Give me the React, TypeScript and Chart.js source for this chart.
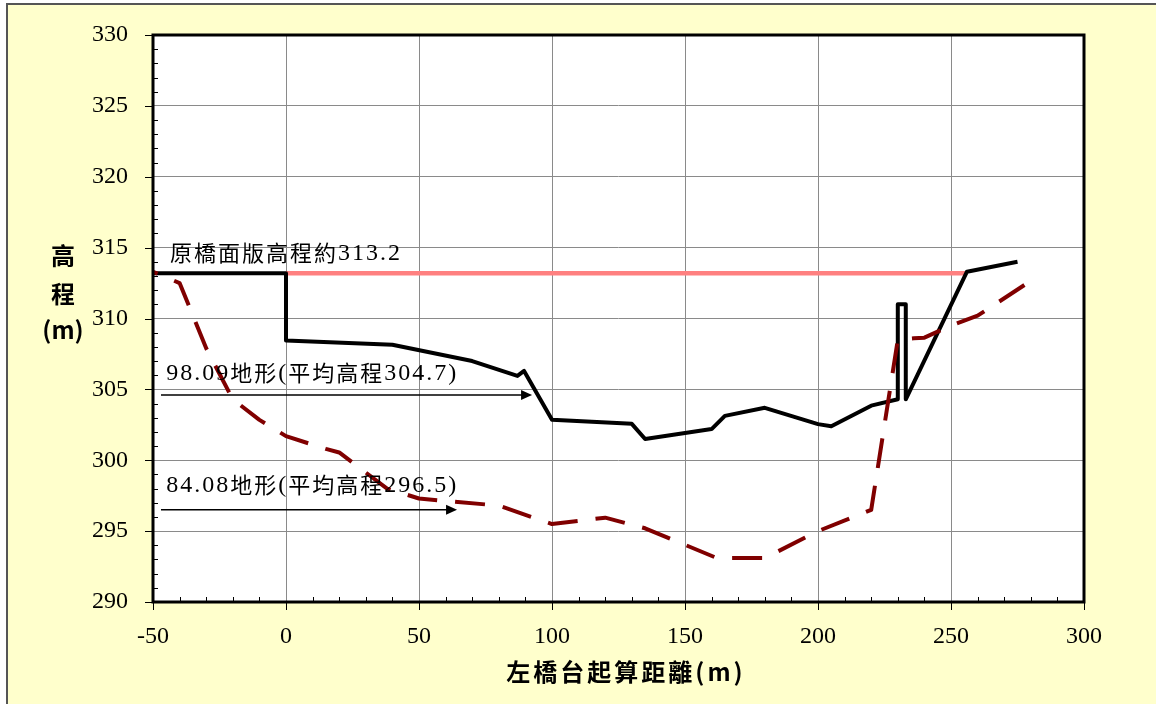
import React, { useEffect, useRef } from "react";
import { Chart, registerables } from "chart.js";

Chart.register(...registerables);

const W = 1156;
const H = 704;

// Axis settings
const X_MIN = -50;
const X_MAX = 300;
const X_STEP = 50;
const X_MINOR = 10;
const Y_MIN = 290;
const Y_MAX = 330;
const Y_STEP = 5;
const Y_MINOR = 1;

// 98.09 terrain (solid black)
const terrain9809X = [-50, 0, 0, 40, 70, 87, 89.5, 100, 130, 135, 160, 165, 180, 200, 205, 220, 230, 230, 233, 233, 256, 275];
const terrain9809Y = [313.2, 313.2, 308.45, 308.15, 307, 305.95, 306.3, 302.85, 302.57, 301.5, 302.2, 303.13, 303.7, 302.55, 302.4, 303.85, 304.3, 311, 311, 304.3, 313.3, 314];

// 84.08 terrain (dashed dark red)
const terrain8408X = [-50, -40, -30, -20, -10, 0, 15, 20, 38, 50, 80, 100, 120, 135, 162, 180, 200, 220, 230, 236, 240, 250, 260, 282];
const terrain8408Y = [313.3, 312.5, 307.9, 304.3, 302.85, 301.7, 300.8, 300.55, 298, 297.3, 296.8, 295.5, 295.95, 295.2, 293.1, 293.1, 295, 296.5, 308.5, 308.6, 308.65, 309.5, 310.2, 312.9];

// original bridge deck (pink)
const deckX = [0, 256];
const deckY = [313.2, 313.2];

// annotations
const noteTexts = ["原橋面版高程約313.2", "98.09地形(平均高程304.7)", "84.08地形(平均高程296.5)"];
const noteX = [-43.6, -45, -45];
const noteY = [314.6, 306.1, 298.2];
const arrowFromX = [-47, -47];
const arrowToX = [92.5, 64.3];
const arrowY = [304.6, 296.5];

const yTitleChars = ["高", "程", "(m)"];
const xTitle = "左橋台起算距離(m)";

const SERIF = '"Liberation Serif", "Times New Roman", serif';
const CJK = '"Noto Sans CJK TC", "Noto Sans CJK SC", sans-serif';

function pts(xs: number[], ys: number[]) {
  return xs.map((x, i) => ({ x, y: ys[i] }));
}

function drawMixed(ctx: CanvasRenderingContext2D, text: string, x: number, y: number) {
  let cx = x;
  for (const ch of Array.from(text)) {
    const cjk = ch.charCodeAt(0) > 0x2e80;
    ctx.font = cjk ? `22px ${CJK}` : `24px ${SERIF}`;
    ctx.fillText(ch, cx, cjk ? y - 1 : y);
    cx += ctx.measureText(ch).width + 2;
  }
}

export default function App() {
  const ref = useRef<HTMLCanvasElement>(null);

  useEffect(() => {
    const canvas = ref.current;
    if (!canvas) return;

    const decor = {
      id: "decor",
      beforeDraw(chart: any) {
        const { ctx, chartArea: a } = chart;
        ctx.save();
        ctx.fillStyle = "#ffffff";
        ctx.fillRect(0, 0, W, H);
        ctx.fillStyle = "#FFFFCC";
        ctx.fillRect(7, 4, W, H);
        ctx.strokeStyle = "#555555";
        ctx.lineWidth = 2;
        ctx.beginPath();
        ctx.moveTo(7, H);
        ctx.lineTo(7, 4);
        ctx.lineTo(W, 4);
        ctx.stroke();
        ctx.fillStyle = "#ffffff";
        ctx.fillRect(a.left, a.top, a.right - a.left, a.bottom - a.top);
        ctx.restore();
      },
      afterDraw(chart: any) {
        const { ctx, chartArea: a } = chart;
        const xs = chart.scales.x;
        const ys = chart.scales.y;
        ctx.save();
        // ticks
        ctx.strokeStyle = "#000";
        ctx.lineWidth = 1;
        ctx.beginPath();
        for (let v = X_MIN; v <= X_MAX + 1e-6; v += X_MINOR) {
          const px = Math.round(xs.getPixelForValue(v)) + 0.5;
          const major = Math.abs((v - X_MIN) % X_STEP) < 1e-6;
          if (major) {
            ctx.moveTo(px, a.bottom);
            ctx.lineTo(px, a.bottom + 8);
          } else {
            ctx.moveTo(px, a.bottom);
            ctx.lineTo(px, a.bottom - 5);
          }
        }
        for (let v = Y_MIN; v <= Y_MAX + 1e-6; v += Y_MINOR) {
          const py = Math.round(ys.getPixelForValue(v)) + 0.5;
          const major = Math.abs((v - Y_MIN) % Y_STEP) < 1e-6;
          if (major) {
            ctx.moveTo(a.left - 8, py);
            ctx.lineTo(a.left, py);
          } else {
            ctx.moveTo(a.left, py);
            ctx.lineTo(a.left + 5, py);
          }
        }
        ctx.stroke();

        // frame
        ctx.lineWidth = 3;
        ctx.strokeStyle = "#000";
        ctx.strokeRect(a.left, a.top, a.right - a.left, a.bottom - a.top);

        // annotations
        ctx.fillStyle = "#000";
        ctx.textAlign = "left";
        ctx.textBaseline = "middle";
        noteTexts.forEach((t, i) => {
          drawMixed(ctx, t, xs.getPixelForValue(noteX[i]), ys.getPixelForValue(noteY[i]));
        });

        ctx.lineWidth = 1.5;
        arrowY.forEach((yv, i) => {
          const y = ys.getPixelForValue(yv);
          const x1 = xs.getPixelForValue(arrowFromX[i]);
          const x2 = xs.getPixelForValue(arrowToX[i]);
          ctx.beginPath();
          ctx.moveTo(x1, y);
          ctx.lineTo(x2 - 8, y);
          ctx.stroke();
          ctx.beginPath();
          ctx.moveTo(x2, y);
          ctx.lineTo(x2 - 11, y - 5);
          ctx.lineTo(x2 - 11, y + 5);
          ctx.closePath();
          ctx.fill();
        });

        // axis titles
        ctx.font = `bold 24px ${CJK}`;
        ctx.textAlign = "center";
        ctx.textBaseline = "middle";
        const yCenters = [256, 294, 330];
        yTitleChars.forEach((c, i) => ctx.fillText(c, 63, yCenters[i]));
        (ctx as any).letterSpacing = "3px";
        ctx.fillText(xTitle, 626, 672);
        (ctx as any).letterSpacing = "0px";
        ctx.restore();
      },
    };

    const chart = new Chart(canvas, {
      type: "scatter",
      data: {
        datasets: [
          {
            label: "84.08地形",
            data: pts(terrain8408X, terrain8408Y),
            showLine: true,
            borderColor: "#800000",
            borderWidth: 4,
            borderDash: [30, 18],
            borderDashOffset: 25,
            borderCapStyle: "butt",
            borderJoinStyle: "round",
            pointRadius: 0,
            tension: 0,
            order: 0,
          },
          {
            label: "98.09地形",
            data: pts(terrain9809X, terrain9809Y),
            showLine: true,
            borderColor: "#000000",
            borderWidth: 4,
            borderCapStyle: "butt",
            borderJoinStyle: "round",
            pointRadius: 0,
            tension: 0,
            order: 1,
          },
          {
            label: "原橋面版",
            data: pts(deckX, deckY),
            showLine: true,
            borderColor: "#FF8080",
            borderWidth: 4.5,
            borderCapStyle: "butt",
            pointRadius: 0,
            order: 2,
          },
        ],
      },
      options: {
        animation: false,
        responsive: false,
        devicePixelRatio: 1,
        layout: { padding: { left: 0, top: 35, right: W - 1084, bottom: 0 } },
        plugins: {
          legend: { display: false },
          tooltip: { enabled: false },
          title: { display: false },
        },
        scales: {
          x: {
            type: "linear",
            min: X_MIN,
            max: X_MAX,
            afterFit: (axis: any) => {
              axis.height = H - 602;
              axis.paddingLeft = 0;
              axis.paddingRight = 0;
            },
            ticks: {
              stepSize: X_STEP,
              color: "#000",
              font: { family: SERIF, size: 24 },
              padding: 20,
              maxRotation: 0,
            },
            grid: {
              color: "#8a8a8a",
              lineWidth: 1,
              borderDash: [2, 2],
              drawTicks: false,
            },
            border: { display: false },
          },
          y: {
            type: "linear",
            min: Y_MIN,
            max: Y_MAX,
            afterFit: (axis: any) => {
              axis.width = 153;
              axis.paddingTop = 0;
              axis.paddingBottom = 0;
            },
            ticks: {
              stepSize: Y_STEP,
              color: "#000",
              font: { family: SERIF, size: 24 },
              padding: 25,
            },
            grid: {
              color: "#8a8a8a",
              lineWidth: 1,
              borderDash: [2, 2],
              drawTicks: false,
            },
            border: { display: false },
          },
        },
      },
      plugins: [decor],
    } as any);

    return () => chart.destroy();
  }, []);

  return (
    <canvas
      ref={ref}
      width={W}
      height={H}
      style={{ position: "fixed", left: 0, top: 0, width: W, height: H, display: "block" }}
    />
  );
}
